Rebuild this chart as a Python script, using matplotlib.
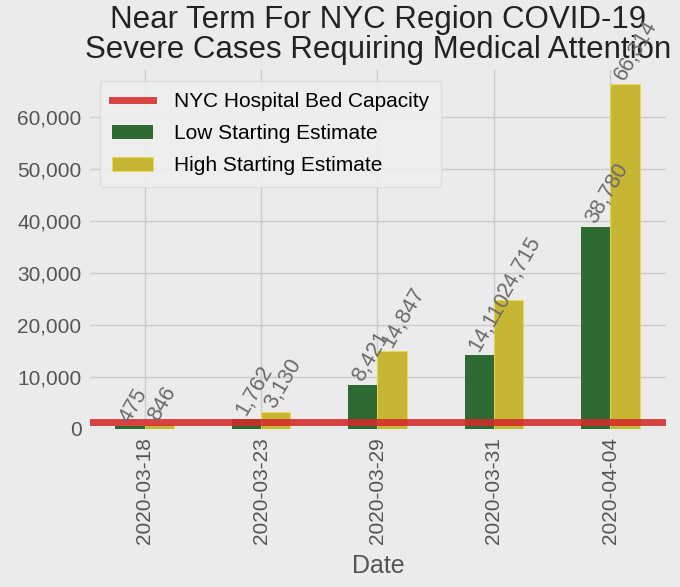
import matplotlib
matplotlib.use("Agg")
import numpy as np
from matplotlib import pyplot as plt

dates = ["2020-03-18", "2020-03-23", "2020-03-29", "2020-03-31", "2020-04-04"]
low_estimate = [475, 1762, 8421, 14110, 38780]
high_estimate = [846, 3130, 14847, 24715, 66314]
bed_capacity = 1300

plt.rcParams["font.family"] = ["Liberation Sans", "DejaVu Sans"]

bg = "#ebebeb"
fig, ax = plt.subplots(figsize=(6.8, 5.87), dpi=100)
fig.patch.set_facecolor(bg)
ax.set_facecolor(bg)

x = np.arange(len(dates))
w = 0.25

line = ax.axhline(bed_capacity, color="#d42a2a", lw=5, alpha=0.88, zorder=4,
                  label="NYC Hospital Bed Capacity")
b1 = ax.bar(x - w / 2, low_estimate, w, color="#2e6b32", label="Low Starting Estimate", zorder=3)
b2 = ax.bar(x + w / 2, high_estimate, w, color="#c6b634", edgecolor="#e8dc50", lw=0.6,
            label="High Starting Estimate", zorder=3)

for bars in (b1, b2):
    for r in bars:
        ax.annotate(f"{int(r.get_height()):,}", (r.get_x(), r.get_height()),
                    rotation=60, ha="left", va="bottom", fontsize=15.5, color="#6a6a6a",
                    zorder=5)

ax.set_xlim(-0.47, 4.48)
ax.set_ylim(0, 69000)
ax.set_xticks(x)
ax.set_xticklabels(dates, rotation=90)
ax.yaxis.set_major_formatter(matplotlib.ticker.FuncFormatter(lambda v, p: f"{int(v):,}"))
ax.set_yticks(range(0, 60001, 10000))
ax.tick_params(axis="both", labelsize=15, colors="#555555", length=0, pad=6)
ax.grid(True, color="#cbcbcb", lw=1, zorder=0)
ax.set_axisbelow(True)
for s in ax.spines.values():
    s.set_visible(False)

ax.set_xlabel("Date", fontsize=18, color="#555555", labelpad=7)
ax.set_title("Near Term For NYC Region COVID-19\nSevere Cases Requiring Medical Attention",
             fontsize=22.5, color="#222222", linespacing=1.0, pad=9)

leg = ax.legend(handles=[line, b1, b2], loc="upper left", fontsize=15,
                facecolor="#efefef", edgecolor="#dddddd", framealpha=0.9,
                handlelength=2.0, handletextpad=1.0, borderpad=0.55, labelspacing=0.62)

fig.subplots_adjust(left=0.132, right=0.98, top=0.88, bottom=0.27)
fig.savefig("out.png", dpi=100, facecolor=bg)
